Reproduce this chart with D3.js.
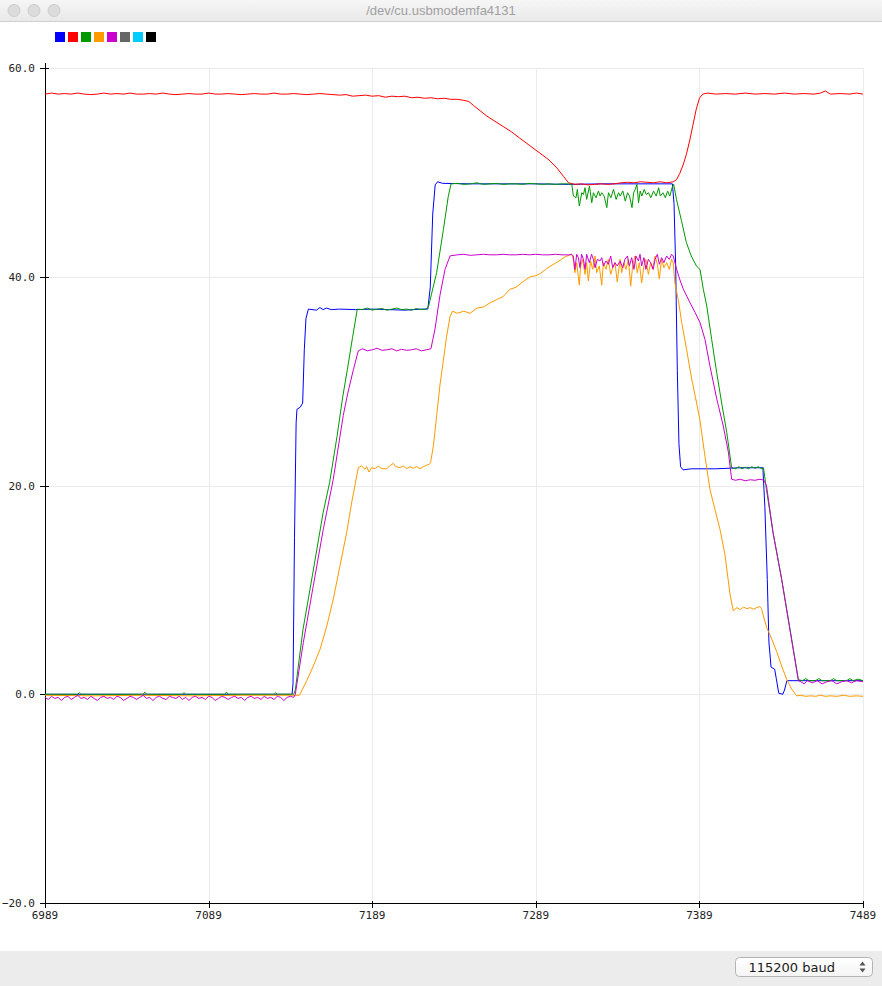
<!DOCTYPE html>
<html>
<head>
<meta charset="utf-8">
<script src="https://cdn.jsdelivr.net/npm/d3@7"></script>
<style>
	html, body { margin: 0; padding: 0; background: #fff; }
	svg { display: block; }
</style>
</head>
<body>
<svg id="plotter" width="882" height="986"></svg>
<script>
const portName = '/dev/cu.usbmodemfa4131';
const baudLabel = '115200 baud';

// first sample shown on the x axis, points below are [sample offset, value]
const firstSample = 6989;
const xTicks = [6989, 7089, 7189, 7289, 7389, 7489];
const yTicks = [60, 40, 20, 0, -20];

const seriesColors = ['#0000ff', '#ff0000', '#009900', '#ff9900', '#cc00cc', '#666666', '#00ccff', '#000000'];

const blue = [
	[0, 0], [151, 0], [151.6, 1], [152.5, 15], [153.5, 26], [154, 27.3], [156, 27.5], [157.5, 27.9],
	[158.5, 33], [159.5, 36], [161, 36.9], [166, 36.8], [168, 37.05], [170, 36.85], [172, 37.0],
	[175, 36.85], [180, 36.9], [190, 36.85], [200, 36.9], [210, 36.85], [220, 36.8], [230, 36.9],
	[234, 36.9], [235.5, 39], [237, 46], [238.5, 48.8], [240, 49.1], [243, 48.95], [260, 48.9],
	[280, 48.9], [300, 48.9], [320, 48.85], [340, 48.9], [360, 48.9], [383.5, 48.9], [384.5, 47],
	[385.5, 41], [386.5, 31], [387.5, 24], [388.5, 21.8], [390, 21.5], [395, 21.6], [410, 21.6],
	[425, 21.7], [438.8, 21.7], [440, 18], [441.5, 11], [442.5, 5], [443.8, 2.6], [446, 2.4],
	[447, 1.5], [448.5, 0.1], [451, 0], [452, 0.4], [453.5, 1.3], [500, 1.3]
];

const red = [
	[0, 57.5], [4, 57.6], [8, 57.5], [12, 57.55], [16, 57.5], [20, 57.6], [24, 57.5], [28, 57.45],
	[32, 57.5], [36, 57.6], [40, 57.5], [44, 57.55], [48, 57.5], [52, 57.6], [56, 57.5], [60, 57.5],
	[64, 57.55], [68, 57.5], [72, 57.6], [76, 57.5], [80, 57.45], [84, 57.5], [88, 57.55], [92, 57.5],
	[96, 57.5], [100, 57.6], [104, 57.5], [108, 57.5], [112, 57.55], [116, 57.5], [120, 57.45],
	[124, 57.5], [128, 57.55], [132, 57.5], [136, 57.5], [140, 57.6], [144, 57.5], [148, 57.5],
	[152, 57.55], [156, 57.5], [160, 57.45], [164, 57.5], [168, 57.55], [172, 57.5], [176, 57.45],
	[180, 57.4], [184, 57.45], [188, 57.3], [192, 57.35], [196, 57.4], [200, 57.3], [204, 57.35],
	[208, 57.2], [212, 57.3], [216, 57.25], [220, 57.3], [224, 57.15], [228, 57.2], [232, 57.1],
	[236, 57.15], [240, 57.05], [244, 57.1], [248, 57.0], [252, 57.0], [256, 56.9], [259, 56.8],
	[262, 56.4], [266, 55.9], [270, 55.4], [275, 54.9], [280, 54.4], [285, 53.9], [290, 53.3],
	[296, 52.6], [302, 51.9], [308, 51.2], [313, 50.4], [317, 49.6], [320, 49.0], [324, 48.85],
	[328, 48.9], [332, 48.8], [336, 48.85], [340, 48.9], [344, 48.85], [348, 48.9], [352, 49.0],
	[356, 49.05], [360, 49.0], [364, 49.1], [368, 49.05], [372, 49.0], [376, 49.1], [380, 49.0],
	[384, 49.1], [386, 49.3], [388, 49.9], [390, 50.7], [392, 51.7], [394, 53.0], [396, 54.5],
	[398, 56.0], [400, 57.1], [402, 57.5], [405, 57.6], [410, 57.5], [416, 57.55], [422, 57.5],
	[428, 57.6], [434, 57.5], [440, 57.55], [446, 57.5], [452, 57.6], [458, 57.5], [464, 57.55],
	[470, 57.5], [474, 57.6], [477, 57.8], [480, 57.5], [486, 57.55], [492, 57.5], [496, 57.6], [500, 57.5]
];

const green = [
	[0, 0], [20, 0], [21, 0.15], [22, 0], [60, 0], [61, 0.2], [62, 0], [84, 0], [85, 0.15], [86, 0],
	[110, 0], [111, 0.2], [112, 0], [140, 0], [141, 0.15], [142, 0], [152, 0],
	[153, 0.4], [157.7, 6.2], [163.8, 11.7], [170, 17.4], [174, 20.3], [178.5, 24.7], [182, 28.5],
	[184.8, 31.1], [188, 34.2], [190.9, 36.9],
	[194, 36.85], [197, 37.0], [200, 36.8], [203, 36.9], [206, 36.95], [209, 36.8], [212, 36.9],
	[215, 37.0], [218, 36.85], [221, 36.9], [224, 36.8], [227, 36.95], [230, 36.85], [233, 36.9],
	[234.5, 37.2], [239.4, 40.4], [243.5, 44.5], [246.5, 47.7], [248.2, 48.9],
	[252, 48.95], [256, 48.85], [260, 48.9], [264, 49.0], [268, 48.85], [272, 48.9], [276, 48.95],
	[280, 48.85], [284, 48.9], [288, 48.9], [292, 48.85], [296, 48.95], [300, 48.9], [304, 48.85],
	[308, 48.9], [312, 48.85], [316, 48.9], [320, 48.9],
	[322, 48.85], [323, 47.73], [324.6, 47.57], [325.4, 48.37], [326.6, 46.77], [328.1, 48.05],
	[329.1, 47.89], [330.1, 48.53], [331.1, 47.41], [332.8, 48.69], [334.2, 47.09], [335.2, 48.05],
	[336.8, 47.57], [338.3, 48.21], [339.3, 47.73], [340.3, 48.05], [341.8, 47.73], [343.4, 46.62],
	[344.4, 48.05], [345.9, 47.57], [347.5, 48.37], [349.1, 47.41], [350.6, 48.05], [351.6, 47.73],
	[353.2, 48.21], [354.7, 47.25], [356.1, 48.05], [357.3, 47.73], [358.8, 46.62], [359.8, 48.05],
	[360.8, 48.37], [361.8, 48.85], [362.8, 47.09], [363.8, 48.21], [364.8, 47.73], [366.3, 48.37],
	[367.5, 47.89], [368.9, 48.05], [370.3, 47.57], [372, 48.21], [373.6, 47.73], [375.1, 48.53],
	[376.1, 47.73], [377.7, 48.05], [379.2, 47.57], [380.6, 48.21], [381.9, 47.73], [383.3, 48.53],
	[384.3, 48.85],
	[386, 47.4], [389, 45.4], [392, 43.3], [395, 42.0], [398.3, 41.0], [400.4, 40.7], [402.4, 38.8],
	[404.5, 37.2], [407.5, 34], [410.6, 30.8], [413.6, 27.9], [416.7, 25.1], [419.7, 21.7],
	[422, 21.6], [424, 21.8], [426, 21.6], [428, 21.75], [430, 21.6], [432, 21.8], [434, 21.65],
	[436, 21.8], [438, 21.6], [439.2, 21.7],
	[441, 19.6], [445, 15.5], [450.3, 11], [455, 6.6], [460.5, 1.4],
	[463, 1.3], [465, 1.5], [467, 1.3], [471, 1.3], [473, 1.5], [475, 1.3], [480, 1.3], [482, 1.5],
	[484, 1.3], [490, 1.3], [492, 1.5], [494, 1.3], [497, 1.45], [500, 1.3]
];

const orange = [
	[0, -0.1], [30, -0.15], [60, -0.1], [90, -0.15], [120, -0.1], [155.5, -0.1],
	[160, 1.3], [164, 2.7], [168.1, 4.3], [172.2, 6.5], [176.2, 9.1], [180.3, 12.3], [184.4, 15.5],
	[187.5, 18.4], [191.5, 21.7],
	[193.5, 21.87], [195.6, 21.55], [196.6, 21.8], [198, 21.29], [199.6, 21.71], [201.7, 21.61],
	[203.7, 21.87], [205.7, 21.61], [208.8, 21.61], [211.2, 21.93], [212.9, 22.12], [214.5, 21.8],
	[216.9, 21.71], [219, 21.87], [221, 21.61], [223.1, 21.8], [225.1, 21.65], [227.1, 21.8],
	[229.2, 21.61], [231.2, 21.8], [233.2, 21.93], [234.9, 22.03], [235.7, 22.19],
	[237.4, 23.8], [239.4, 26.7], [241.4, 29.6], [243.5, 32.0], [245.5, 34.3], [247.6, 36.2], [249.2, 36.7],
	[252, 36.5], [256, 36.7], [259.8, 36.5], [264, 37.0], [268, 37.1], [272, 37.5], [276, 37.8],
	[280, 38.1], [284.2, 38.8], [288, 39.0], [292, 39.5], [296.5, 40.0], [300, 40.1], [302.6, 40.3],
	[306, 40.7], [308.7, 41.0], [312, 41.3], [315, 41.6], [317.8, 41.9], [320.9, 42.1],
	[321.9, 42.15], [322.9, 41.67], [323.9, 40.39], [325, 41.35], [326.6, 39.2], [327.4, 41.03],
	[328.6, 41.67], [330.1, 40.23], [331.1, 41.35], [332.1, 39.6], [333.5, 41.51], [334.8, 40.71],
	[336.2, 41.99], [337.2, 40.39], [338.8, 41.03], [340.3, 39.2], [341.3, 41.35], [342.9, 40.71],
	[344.3, 41.67], [345.8, 40.23], [347, 40.87], [348.4, 41.35], [349.8, 39.5], [351.5, 41.67],
	[352.5, 40.39], [353.9, 41.35], [355.1, 40.71], [356.6, 41.67], [358, 39.1], [359.2, 41.03],
	[360.6, 41.99], [362, 40.39], [363.3, 41.35], [364.7, 39.4], [366.1, 41.03], [367.3, 41.67],
	[368.8, 40.23], [370.2, 41.35], [371.4, 40.71], [372.9, 41.99], [374.3, 41.19], [375.5, 39.8],
	[376.9, 41.67], [378.3, 40.87], [380, 41.35], [381.6, 40.71], [383, 41.67], [384, 41.35],
	[385, 39.4], [387.1, 37.8], [389.2, 35.6], [392.2, 33], [395.3, 30.2], [398.3, 27.9], [400.4, 26.2],
	[403.4, 22.8], [406.5, 19.6], [409.5, 17.7], [412.6, 15.8], [415.6, 13.4], [418.7, 9.6], [420.7, 8.0],
	[423, 8.3], [425, 8.1], [427, 8.35], [429, 8.2], [431, 8.3], [433, 8.15], [435, 8.3], [437, 8.4], [438, 8.2],
	[439.1, 7.5], [441.1, 6.4], [444.2, 5.3], [447.2, 4.1], [450.3, 2.7], [453.4, 1.4], [456.4, 0.5], [459.5, -0.16],
	[462, -0.1], [465, -0.2], [468, -0.15], [471, -0.2], [474, -0.1], [477, -0.2], [480, -0.15],
	[484, -0.2], [488, -0.1], [492, -0.2], [496, -0.15], [500, -0.2]
];

const magenta = [
	[0, -0.3], [2, -0.5], [4, -0.2], [6, -0.4], [8, -0.3], [10, -0.6], [12, -0.3], [14, -0.2],
	[16, -0.5], [18, -0.3], [20, -0.1], [22, -0.4], [24, -0.3], [26, -0.5], [28, -0.2], [30, -0.4],
	[32, -0.6], [34, -0.3], [36, -0.2], [38, -0.4], [40, -0.3], [42, -0.5], [44, -0.2], [46, -0.3],
	[48, -0.6], [50, -0.4], [52, -0.2], [54, -0.3], [56, -0.5], [58, -0.3], [60, -0.1], [62, -0.4],
	[64, -0.3], [66, -0.6], [68, -0.3], [70, -0.2], [72, -0.4], [74, -0.5], [76, -0.2], [78, -0.3],
	[80, -0.4], [82, -0.2], [84, -0.5], [86, -0.3], [88, -0.6], [90, -0.3], [92, -0.2], [94, -0.4],
	[96, -0.3], [98, -0.5], [100, -0.2], [102, -0.3], [104, -0.6], [106, -0.4], [108, -0.2], [110, -0.3],
	[112, -0.5], [114, -0.3], [116, -0.2], [118, -0.4], [120, -0.3], [122, -0.6], [124, -0.3], [126, -0.2],
	[128, -0.4], [130, -0.3], [132, -0.5], [134, -0.2], [136, -0.4], [138, -0.3], [140, -0.5], [142, -0.2],
	[144, -0.3], [146, -0.6], [148, -0.3], [150, -0.2], [152, -0.3],
	[153, 0], [157.9, 4.95], [164, 10.4], [170.1, 15.8], [176.2, 20.6], [182.3, 26.7], [185, 28.8],
	[188.5, 31.1], [191.5, 32.9],
	[194, 33.1], [197, 32.9], [200, 33.0], [203, 33.15], [206, 32.95], [209, 33.0], [212, 33.1],
	[215, 32.9], [218, 33.05], [221, 32.95], [224, 33.0], [227, 33.1], [230, 32.9], [233, 33.0], [235.9, 33.1],
	[238.4, 35], [241.4, 38.2], [244.5, 40.7], [247.6, 42.0],
	[252, 42.1], [256, 42.15], [260, 42.05], [264, 42.1], [268, 42.15], [272, 42.1], [276, 42.1],
	[280, 42.15], [284, 42.1], [288, 42.1], [292, 42.15], [296, 42.1], [300, 42.15], [304, 42.1],
	[308, 42.1], [312, 42.15], [316, 42.1], [320, 42.1],
	[321.9, 42.15], [322.9, 41.99], [323.9, 40.71], [325, 42.15], [326, 41.83], [327, 40.87],
	[328, 42.15], [329.1, 41.67], [330.1, 40.71], [331.1, 42.15], [332.7, 41.35], [334.1, 42.15],
	[335.2, 41.67], [336.2, 40.87], [337.6, 41.67], [339.2, 41.51], [340.3, 41.83], [341.3, 41.03],
	[342.9, 41.51], [344.3, 41.19], [345.8, 41.99], [347, 40.87], [348.4, 41.35], [349.8, 41.03],
	[351.5, 41.51], [353.1, 40.87], [354.5, 41.67], [356, 41.99], [357.2, 41.03], [358.6, 41.83],
	[360, 40.71], [361.2, 41.99], [362.7, 41.51], [363.7, 42.15], [364.7, 41.03], [366.1, 41.83],
	[367.3, 40.71], [368.8, 41.67], [370.2, 41.35], [371.8, 40.71], [372.9, 41.67], [374.3, 42.15],
	[375.5, 41.19], [376.9, 41.83], [378.3, 41.35], [380, 41.99], [381.6, 41.67], [383, 42.15], [384, 41.99],
	[386.1, 40.7], [388.1, 39.7], [390.2, 38.8], [394.3, 37.5], [397.3, 36.6], [400.4, 35.6],
	[403.4, 34.0], [406.5, 31.4], [410.6, 28.3], [414.6, 25.7], [417.7, 23.2], [419.7, 20.6],
	[422, 20.5], [425, 20.6], [428, 20.45], [431, 20.55], [434, 20.5], [437, 20.6], [439.5, 20.5],
	[441, 20.0], [445, 15.5], [450.3, 11], [455, 6.5], [460.5, 1.3],
	[462, 1.2], [464, 1.0], [466, 1.3], [469, 1.1], [472, 1.3], [475, 1.0], [478, 1.2], [481, 1.3],
	[484, 1.0], [487, 1.2], [490, 1.3], [493, 1.1], [496, 1.3], [500, 1.2]
];

// drawn in serial order, later series sit on top
const series = [blue, red, green, orange, magenta];

const width = 882;
const height = 986;
const plot = { left: 45, right: 863, top: 68, bottom: 903 };
const monoFont = '"DejaVu Sans Mono", "Liberation Mono", monospace';

const svg = d3.select('#plotter');

const x = d3.scaleLinear()
	.domain([xTicks[0], xTicks[xTicks.length - 1]])
	.range([plot.left, plot.right]);

const y = d3.scaleLinear()
	.domain([yTicks[yTicks.length - 1], yTicks[0]])
	.range([plot.bottom, plot.top]);

function drawWindow() {
	const defs = svg.append('defs');
	const grad = defs.append('linearGradient')
		.attr('id', 'titleGrad')
		.attr('x1', 0).attr('y1', 0).attr('x2', 0).attr('y2', 1);
	grad.append('stop').attr('offset', '0%').attr('stop-color', '#f6f6f6');
	grad.append('stop').attr('offset', '100%').attr('stop-color', '#e9e9e9');

	const selGrad = defs.append('linearGradient')
		.attr('id', 'selectGrad')
		.attr('x1', 0).attr('y1', 0).attr('x2', 0).attr('y2', 1);
	selGrad.append('stop').attr('offset', '0%').attr('stop-color', '#ffffff');
	selGrad.append('stop').attr('offset', '100%').attr('stop-color', '#f4f4f4');

	svg.append('rect')
		.attr('width', width).attr('height', height)
		.attr('fill', '#fff');

	// title bar
	svg.append('rect')
		.attr('width', width).attr('height', 21)
		.attr('fill', 'url(#titleGrad)');
	svg.append('line')
		.attr('x1', 0).attr('x2', width)
		.attr('y1', 21.5).attr('y2', 21.5)
		.attr('stroke', '#cfcfcf');

	svg.append('g')
		.selectAll('circle')
		.data([14, 34, 54])
		.join('circle')
		.attr('cx', d => d)
		.attr('cy', 10.5)
		.attr('r', 6)
		.attr('fill', '#dcdcdc')
		.attr('stroke', '#cbcbcb');

	svg.append('text')
		.attr('x', width / 2)
		.attr('y', 15)
		.attr('text-anchor', 'middle')
		.attr('font-family', '"Liberation Sans", Arial, sans-serif')
		.attr('font-size', 13)
		.attr('fill', '#a0a0a0')
		.text(portName);

	// bottom bar with the baud selector
	svg.append('rect')
		.attr('y', 951).attr('width', width).attr('height', height - 951)
		.attr('fill', '#ececec');

	const sel = svg.append('g').attr('transform', 'translate(735.5,957.5)');
	sel.append('rect')
		.attr('width', 137).attr('height', 19)
		.attr('rx', 4)
		.attr('fill', 'url(#selectGrad)')
		.attr('stroke', '#b4b4b4');
	sel.append('text')
		.attr('x', 13)
		.attr('y', 14.5)
		.attr('font-family', '"DejaVu Sans", "Noto Sans", sans-serif')
		.attr('font-size', 13)
		.attr('fill', '#1a1a1a')
		.text(baudLabel);
	sel.append('path')
		.attr('d', 'M124,8 l3,-4 l3,4 Z M124,11 l3,4 l3,-4 Z')
		.attr('fill', '#555');
}

function drawLegend() {
	svg.append('g')
		.selectAll('rect')
		.data(seriesColors)
		.join('rect')
		.attr('x', (d, i) => 55 + i * 13)
		.attr('y', 32)
		.attr('width', 10)
		.attr('height', 10)
		.attr('fill', d => d);
}

function drawAxes() {
	const grid = svg.append('g').attr('stroke', '#ebebeb').attr('stroke-width', 1);

	grid.selectAll('.vgrid')
		.data(xTicks.slice(1))
		.join('line')
		.attr('class', 'vgrid')
		.attr('x1', d => Math.round(x(d)) + 0.5)
		.attr('x2', d => Math.round(x(d)) + 0.5)
		.attr('y1', plot.top)
		.attr('y2', plot.bottom);

	grid.selectAll('.hgrid')
		.data(yTicks.slice(0, -1))
		.join('line')
		.attr('class', 'hgrid')
		.attr('x1', plot.left)
		.attr('x2', plot.right)
		.attr('y1', d => Math.round(y(d)) + 0.5)
		.attr('y2', d => Math.round(y(d)) + 0.5);

	const axes = svg.append('g').attr('stroke', '#000').attr('stroke-width', 1);

	// y axis line and crossing ticks
	axes.append('line')
		.attr('x1', plot.left + 0.5).attr('x2', plot.left + 0.5)
		.attr('y1', 63).attr('y2', plot.bottom + 0.5);
	axes.selectAll('.ytick')
		.data(yTicks)
		.join('line')
		.attr('class', 'ytick')
		.attr('x1', plot.left - 5)
		.attr('x2', plot.left + 4)
		.attr('y1', d => Math.round(y(d)) + 0.5)
		.attr('y2', d => Math.round(y(d)) + 0.5);

	// x axis line and ticks
	axes.append('line')
		.attr('x1', plot.left).attr('x2', plot.right + 0.5)
		.attr('y1', plot.bottom + 0.5).attr('y2', plot.bottom + 0.5);
	axes.selectAll('.xtick')
		.data(xTicks)
		.join('line')
		.attr('class', 'xtick')
		.attr('x1', d => Math.round(x(d)) + 0.5)
		.attr('x2', d => Math.round(x(d)) + 0.5)
		.attr('y1', plot.bottom - 2)
		.attr('y2', plot.bottom + 5);

	const fmt = d3.format('.1f');
	svg.append('g')
		.selectAll('text')
		.data(yTicks)
		.join('text')
		.attr('x', 35)
		.attr('y', d => y(d) + 4)
		.attr('text-anchor', 'end')
		.attr('font-family', monoFont)
		.attr('font-size', 11)
		.attr('fill', '#222')
		.text(d => fmt(d));

	svg.append('g')
		.selectAll('text')
		.data(xTicks)
		.join('text')
		.attr('x', d => x(d))
		.attr('y', plot.bottom + 16)
		.attr('text-anchor', 'middle')
		.attr('font-family', monoFont)
		.attr('font-size', 11)
		.attr('fill', '#222')
		.text(d => d);
}

function drawSeries() {
	const line = d3.line()
		.x(d => x(firstSample + d[0]))
		.y(d => y(d[1]));

	svg.append('g')
		.attr('fill', 'none')
		.attr('stroke-width', 1)
		.selectAll('path')
		.data(series)
		.join('path')
		.attr('stroke', (d, i) => seriesColors[i])
		.attr('stroke-linejoin', 'round')
		.attr('d', line);
}

function init() {
	drawWindow();
	drawLegend();
	drawAxes();
	drawSeries();
}

init();
</script>
</body>
</html>
